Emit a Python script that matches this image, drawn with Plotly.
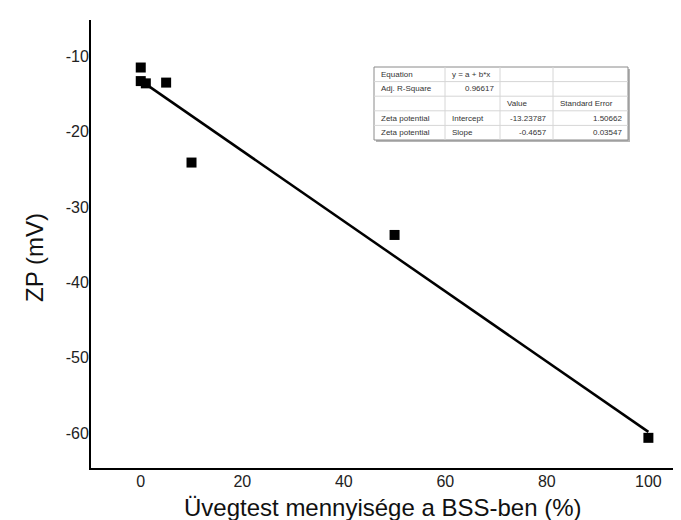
import plotly.graph_objects as go

# Data
x_pct = [0, 0, 1, 5, 10, 50, 100]
zp_mv = [-11.5, -13.3, -13.6, -13.5, -24.1, -33.7, -60.6]

# Linear fit parameters (from the inset table)
intercept = -13.23787
slope = -0.4657
fit_x = [0, 100]
fit_y = [intercept + slope * v for v in fit_x]

x_ticks = [0, 20, 40, 60, 80, 100]
x_tick_labels = ["0", "20", "40", "60", "80", "100"]
y_ticks = [-60, -50, -40, -30, -20, -10]
y_tick_labels = ["-60", "-50", "-40", "-30", "-20", "-10"]

x_title = "Üvegtest mennyisége a BSS-ben (%)"
y_title = "ZP (mV)"

table_rows = [
    ["Equation", "y = a + b*x", "", ""],
    ["Adj. R-Square", "0.96617", "", ""],
    ["", "", "Value", "Standard Error"],
    ["Zeta potential", "Intercept", "-13.23787", "1.50662"],
    ["Zeta potential", "Slope", "-0.4657", "0.03547"],
]

W, H = 681, 520
ml, mr, mt, mb = 83, 0, 12, 60
FONT = "Liberation Sans, Arial, sans-serif"

fig = go.Figure()
fig.add_trace(go.Scatter(x=fit_x, y=fit_y, mode="lines",
                         line=dict(color="black", width=2.5), showlegend=False))
fig.add_trace(go.Scatter(x=x_pct, y=zp_mv, mode="markers",
                         marker=dict(symbol="square", size=10, color="black"),
                         showlegend=False))

# pixel -> paper helpers for the inset table and titles
pw, ph = W - ml - mr, H - mt - mb
def px(xp):
    return (xp - ml) / pw
def py(yp):
    return 1 - (yp - mt) / ph

col_edges = [366, 437, 492, 545, 620]
row_edges = [59, 73.6, 88.2, 102.8, 117.4, 132]
shapes = []
shapes.append(dict(type="rect", xref="paper", yref="paper",
                   x0=px(col_edges[0] + 2), x1=px(col_edges[-1] + 2),
                   y0=py(row_edges[-1] + 2), y1=py(row_edges[0] + 2),
                   line=dict(width=0), fillcolor="#b5b5b5", layer="above"))
shapes.append(dict(type="rect", xref="paper", yref="paper",
                   x0=px(col_edges[0]), x1=px(col_edges[-1]),
                   y0=py(row_edges[-1]), y1=py(row_edges[0]),
                   line=dict(width=1, color="#8a8a8a"), fillcolor="white", layer="above"))
for r in row_edges[1:-1]:
    shapes.append(dict(type="line", xref="paper", yref="paper",
                       x0=px(col_edges[0]), x1=px(col_edges[-1]), y0=py(r), y1=py(r),
                       line=dict(width=1, color="#d6d6d6"), layer="above"))
for c in col_edges[1:-1]:
    shapes.append(dict(type="line", xref="paper", yref="paper",
                       x0=px(c), x1=px(c), y0=py(row_edges[0]), y1=py(row_edges[-1]),
                       line=dict(width=1, color="#d6d6d6"), layer="above"))

annotations = []
for ri, row in enumerate(table_rows):
    yc = (row_edges[ri] + row_edges[ri + 1]) / 2
    for ci, txt in enumerate(row):
        if not txt:
            continue
        numeric = (ci >= 2 and ri != 2) or (ri == 1 and ci == 1)
        if numeric:
            xa, anchor = col_edges[ci + 1] - 4, "right"
        else:
            xa, anchor = col_edges[ci] + 5, "left"
        annotations.append(dict(x=px(xa), y=py(yc), xref="paper", yref="paper",
                                text=txt, showarrow=False, xanchor=anchor, yanchor="middle",
                                font=dict(size=8, color="#333", family=FONT)))

# axis titles
annotations.append(dict(x=px(375), y=py(499), xref="paper", yref="paper",
                        text=x_title, showarrow=False, xanchor="center", yanchor="middle",
                        font=dict(size=24, color="#111", family=FONT)))
annotations.append(dict(x=px(26), y=py(250), xref="paper", yref="paper",
                        text=y_title, showarrow=False, xanchor="center", yanchor="middle",
                        textangle=-90, font=dict(size=24, color="#111", family=FONT)))

fig.update_layout(
    width=W, height=H,
    margin=dict(l=ml, r=mr, t=mt, b=mb),
    paper_bgcolor="white", plot_bgcolor="white",
    font=dict(family=FONT, color="#222"),
    shapes=shapes, annotations=annotations,
    xaxis=dict(range=[-9.8, 108], tickvals=x_ticks, ticktext=x_tick_labels,
               showgrid=False, zeroline=False, automargin=False,
               showline=True, linecolor="black", linewidth=2, ticks="",
               tickfont=dict(size=16), ticklabelstandoff=-2),
    yaxis=dict(range=[-64.6, -5.2], tickvals=y_ticks, ticktext=y_tick_labels,
               showgrid=False, zeroline=False, automargin=False,
               showline=True, linecolor="black", linewidth=2, ticks="",
               tickfont=dict(size=16), ticklabelstandoff=-3),
)

fig.write_html("out.html")
